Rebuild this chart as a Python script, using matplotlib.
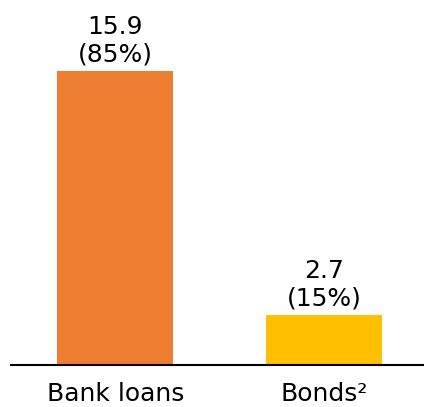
import matplotlib.pyplot as plt

categories = ["Bank loans", "Bonds²"]
values = [15.9, 2.7]
shares = ["85%", "15%"]
colors = ["#ED7D31", "#FFC000"]

fig = plt.figure(figsize=(4.24, 4.07), dpi=100)
ax = fig.add_axes([0.026, 0.103, 0.974, 0.897])

x = list(range(len(categories)))
bars = ax.bar(x, values, width=0.555, color=colors)

for xi, v, s in zip(x, values, shares):
    ax.annotate(f"{v}\n({s})", (xi, v), xytext=(0, 3), textcoords="offset points",
                ha="center", va="bottom", fontsize=18, linespacing=1.22)

ax.set_xlim(-0.5, 1.48)
ax.set_ylim(0, 19.74)
ax.set_xticks(x)
ax.set_xticklabels(categories, fontsize=18)
ax.tick_params(axis="x", length=0, pad=12)
ax.set_yticks([])
for side in ["top", "right", "left"]:
    ax.spines[side].set_visible(False)
ax.spines["bottom"].set_linewidth(1.5)

fig.savefig("out.png", dpi=100)
